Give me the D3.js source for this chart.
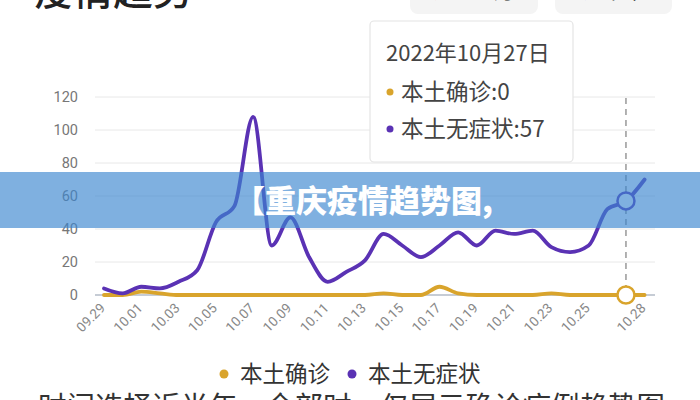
<!DOCTYPE html>
<html><head><meta charset="utf-8">
<script src="https://cdn.jsdelivr.net/npm/d3@7"></script>
<style>
html,body{margin:0;padding:0;background:#fff;}
svg{display:block;font-family:"Noto Sans CJK SC","Noto Sans",sans-serif;}
</style></head>
<body>
<svg id="c" width="700" height="400"></svg>
<script>
const dates = ["09.29","09.30","10.01","10.02","10.03","10.04","10.05","10.06","10.07","10.08","10.09","10.10","10.11","10.12","10.13","10.14","10.15","10.16","10.17","10.18","10.19","10.20","10.21","10.22","10.23","10.24","10.25","10.26","10.27","10.28"];
const confirmed = [0,0,2,1,0,0,0,0,0,0,0,0,0,0,0,1,0,0,5,1,0,0,0,0,1,0,0,0,0,0];
const asymptomatic = [4,1,5,4,8,15,44,54,108,30,47,23,8,14,21,37,30,23,30,38,30,39,37,39,29,26,30,52,57,70];
const xTickLabels = ["09.29","10.01","10.03","10.05","10.07","10.09","10.11","10.13","10.15","10.17","10.19","10.21","10.23","10.25","10.28"];
const yTicks = [0,20,40,60,80,100,120];
const seriesNames = ["本土确诊","本土无症状"];
const colors = ["#d9a42c","#5a32b4"];
const tipDate = "10.27";
const tipTitle = "2022年10月27日";

const svg = d3.select("#c");
const x = d3.scalePoint().domain(dates).range([104, 644.6]);
const y = d3.scaleLinear().domain([0,120]).range([295, 97]);

// top title (cut off)
svg.append("text").attr("x",33).attr("y",5).attr("font-size",40).attr("font-weight",500)
  .attr("fill","#222").text("疫情趋势");
// top buttons
[[410,538,"近一个月"],[555,672,"近半年"]].forEach(b=>{
  svg.append("rect").attr("x",b[0]).attr("y",-20).attr("width",b[1]-b[0]).attr("height",34)
    .attr("rx",8).attr("fill","#f4f4f4");
  svg.append("text").attr("x",(b[0]+b[1])/2).attr("y",-1).attr("text-anchor","middle")
    .attr("font-size",20).attr("fill","#222").text(b[2]);
});

// grid
const grid = svg.append("g");
yTicks.forEach(t=>{
  if(t>0) grid.append("line").attr("x1",95).attr("x2",655).attr("y1",y(t)).attr("y2",y(t))
    .attr("stroke","#e8e8e8").attr("stroke-width",1);
});
// y axis labels
const yAxis = d3.axisLeft(y).tickValues(yTicks).tickSize(0).tickPadding(0);
const yg = svg.append("g").attr("transform","translate(78,0)").call(yAxis);
yg.select(".domain").remove();
yg.selectAll("text").attr("font-size",14.5).attr("fill","#777")
  .attr("font-family","Roboto,'Noto Sans',sans-serif");

// x axis baseline
svg.append("line").attr("x1",95).attr("x2",655).attr("y1",y(0)).attr("y2",y(0))
  .attr("stroke","#8d9aab").attr("stroke-width",1.2);
// x labels
const xAxis = d3.axisBottom(x).tickValues(xTickLabels).tickSize(0).tickPadding(0);
const xg = svg.append("g").call(xAxis);
xg.select(".domain").remove();
xg.selectAll(".tick").attr("transform",d=>`translate(${x(d)+2},309)`);
xg.selectAll("text").attr("font-size",13.5).attr("fill","#888").attr("dy",0).attr("y",0)
  .attr("text-anchor","end").attr("transform","rotate(-45)")
  .attr("font-family","Roboto,'Noto Sans',sans-serif");

// dashed pointer
svg.append("line").attr("x1",x(tipDate)).attr("x2",x(tipDate)).attr("y1",98).attr("y2",y(0))
  .attr("stroke","#999").attr("stroke-width",1.5).attr("stroke-dasharray","6,5");

// lines
const line = d3.line().x((d,i)=>x(dates[i])).y(d=>y(d)).curve(d3.curveMonotoneX);
[confirmed, asymptomatic].forEach((s,k)=>{
  svg.append("path").attr("d",line(s)).attr("fill","none").attr("stroke",colors[k])
    .attr("stroke-width",3.8).attr("stroke-linejoin","round").attr("stroke-linecap","round");
});
// highlight circles
const ti = dates.indexOf(tipDate);
[confirmed, asymptomatic].forEach((s,k)=>{
  svg.append("circle").attr("cx",x(tipDate)).attr("cy",y(s[ti])).attr("r",8.5)
    .attr("fill","#fff").attr("stroke",colors[k]).attr("stroke-width",2.5);
});

// tooltip
const tip = svg.append("g");
tip.append("rect").attr("x",370).attr("y",21).attr("width",203).attr("height",141).attr("rx",4)
  .attr("fill","#fff").attr("stroke","#e4e4e4").attr("stroke-width",1.2);
tip.append("text").attr("x",386).attr("y",61).attr("font-size",22).attr("fill","#444").text(tipTitle);
[confirmed, asymptomatic].forEach((s,k)=>{
  const yy = k===0 ? 100 : 137;
  tip.append("circle").attr("cx",390).attr("cy",yy-8).attr("r",3.5).attr("fill",colors[k]);
  tip.append("text").attr("x",401).attr("y",yy).attr("font-size",22.5).attr("fill","#444")
    .text(seriesNames[k]+":"+s[ti]);
});

// legend
const lg = [[224,240],[352,368]];
seriesNames.forEach((n,k)=>{
  svg.append("circle").attr("cx",lg[k][0]).attr("cy",374).attr("r",4.5).attr("fill",colors[k]);
  svg.append("text").attr("x",lg[k][1]).attr("y",382).attr("font-size",22.5).attr("fill","#333").text(n);
});

// bottom cut text
svg.append("text").attr("x",38).attr("y",417).attr("font-size",28.5).attr("fill","#333")
  .text("时间选择近半年、全部时，仅展示确诊病例趋势图");

// banner overlay
svg.append("rect").attr("x",0).attr("y",172).attr("width",700).attr("height",56)
  .attr("fill","#3a86cf").attr("opacity",0.65);
svg.append("text").attr("x",234).attr("y",212).attr("font-size",31).attr("font-weight",900)
  .attr("fill","#fff").text("【重庆疫情趋势图,");
</script>
</body></html>
